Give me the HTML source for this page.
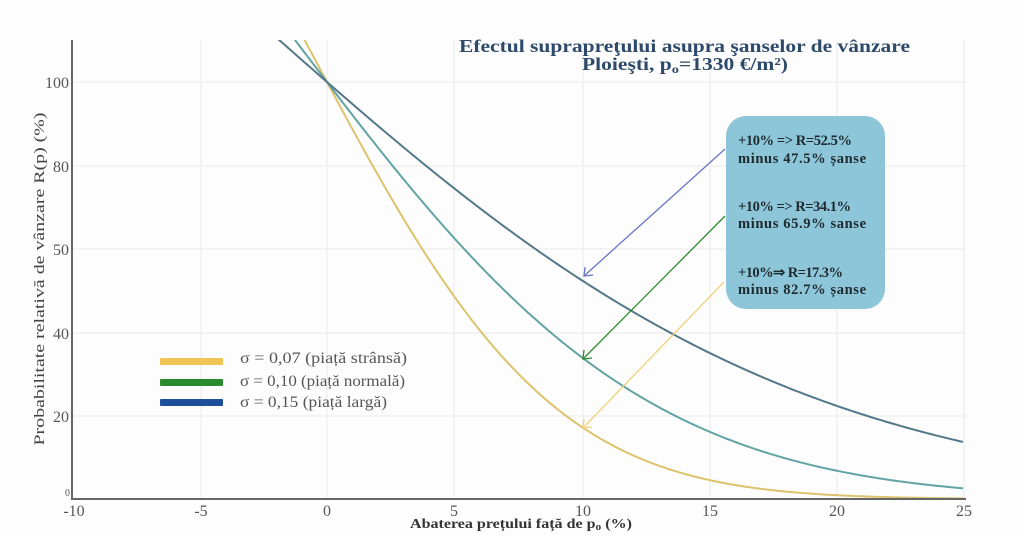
<!DOCTYPE html>
<html><head><meta charset="utf-8">
<style>
html,body{margin:0;padding:0;background:#fff;}
svg{display:block;}
text{font-family:"Liberation Serif",serif;}
</style></head>
<body>
<svg id="s" width="1024" height="536" viewBox="0 0 1024 536" xmlns="http://www.w3.org/2000/svg">
<defs>
<clipPath id="cp"><rect x="72" y="40" width="895" height="460"/></clipPath>
</defs>
<rect width="1024" height="536" fill="#fdfdfd"/>
<!-- grid -->
<g stroke="#e9e9e9" stroke-width="1">
<line x1="72" y1="82" x2="966" y2="82"/>
<line x1="72" y1="166" x2="966" y2="166"/>
<line x1="72" y1="249" x2="966" y2="249"/>
<line x1="72" y1="333" x2="966" y2="333"/>
<line x1="72" y1="416" x2="966" y2="416"/>
<line x1="201" y1="40" x2="201" y2="499"/>
<line x1="327" y1="40" x2="327" y2="499"/>
<line x1="454" y1="40" x2="454" y2="499"/>
<line x1="583" y1="40" x2="583" y2="499"/>
<line x1="710" y1="40" x2="710" y2="499"/>
<line x1="837" y1="40" x2="837" y2="499"/>
<line x1="964" y1="40" x2="964" y2="499"/>
</g>
<!-- curves -->
<g clip-path="url(#cp)" fill="none" stroke-width="2">
<path id="c3" stroke="#dcc36c"/>
<path id="c2" stroke="#62a3a3"/>
<path id="c1" stroke="#557888"/>
</g>
<!-- axes -->
<line x1="72" y1="40" x2="72" y2="500" stroke="#666" stroke-width="2"/>
<line x1="71" y1="499" x2="966" y2="499" stroke="#666" stroke-width="2"/>
<!-- y tick labels -->
<g font-size="16" fill="#555" text-anchor="end">
<text x="69" y="88">100</text>
<text x="69" y="172">80</text>
<text x="69" y="255">50</text>
<text x="69" y="339">40</text>
<text x="69" y="422">20</text>
<text x="70" y="496" font-size="10">0</text>
</g>
<!-- x tick labels -->
<g font-size="16" fill="#555" text-anchor="middle">
<text x="74" y="516">-10</text>
<text x="201" y="516">-5</text>
<text x="327" y="516">0</text>
<text x="454" y="516">5</text>
<text x="583" y="516">10</text>
<text x="710" y="516">15</text>
<text x="837" y="516">20</text>
<text x="964" y="516">25</text>
</g>
<!-- axis titles -->
<text x="410" y="528" font-size="14" font-weight="bold" fill="#333" textLength="222" lengthAdjust="spacingAndGlyphs">Abaterea prețului față de p<tspan font-size="10" dy="2">o</tspan><tspan dy="-2"> (%)</tspan></text>
<text transform="translate(44,279) rotate(-90)" text-anchor="middle" font-size="15" fill="#444" textLength="333" lengthAdjust="spacingAndGlyphs">Probabilitate relativă de vânzare R(p) (%)</text>
<!-- title -->
<text x="459" y="52" font-size="18" font-weight="bold" fill="#2e4a6b" textLength="451" lengthAdjust="spacingAndGlyphs">Efectul suprapreţului asupra şanselor de vânzare</text>
<text x="582" y="70" font-size="18" font-weight="bold" fill="#2e4a6b" textLength="206" lengthAdjust="spacingAndGlyphs">Ploieşti, p<tspan font-size="12" dy="3">o</tspan><tspan dy="-3">=1330 €/m²)</tspan></text>
<!-- legend -->
<rect x="160" y="358" width="63" height="7" fill="#f0c455" rx="1"/>
<rect x="160" y="379" width="63" height="7" fill="#2a8a2e" rx="1"/>
<rect x="160" y="399" width="63" height="7" fill="#1f4f9a" rx="1"/>
<g font-size="15.5" fill="#555">
<text x="240" y="363" textLength="167" lengthAdjust="spacingAndGlyphs">σ = 0,07 (piață strânsă)</text>
<text x="240" y="386" textLength="165" lengthAdjust="spacingAndGlyphs">σ = 0,10 (piață normală)</text>
<text x="240" y="407" textLength="147" lengthAdjust="spacingAndGlyphs">σ = 0,15 (piață largă)</text>
</g>
<!-- annotation box -->
<rect x="726" y="116" width="159" height="193" rx="20" ry="20" fill="#8ec6d9"/>
<g font-size="14.5" fill="#1e2a2e" font-weight="bold">
<text x="738" y="145" textLength="114" lengthAdjust="spacing">+10% =&gt; R=52.5%</text>
<text x="738" y="163" textLength="128" lengthAdjust="spacing">minus 47.5% șanse</text>
<text x="738" y="211" textLength="113" lengthAdjust="spacing">+10% =&gt; R=34.1%</text>
<text x="738" y="228" textLength="128" lengthAdjust="spacing">minus 65.9% sanse</text>
<text x="738" y="277" textLength="105" lengthAdjust="spacing">+10%⇒ R=17.3%</text>
<text x="738" y="294" textLength="128" lengthAdjust="spacing">minus 82.7% șanse</text>
</g>
<!-- arrows -->
<g fill="none" stroke-width="1.3">
<line x1="725" y1="149" x2="584" y2="276" stroke="#6a74c8"/>
<polyline points="585,267 584,276 593,275" stroke="#6a74c8"/>
<line x1="725" y1="216" x2="583" y2="359" stroke="#2e8b2e"/>
<polyline points="584,350 583,359 592,358" stroke="#2e8b2e"/>
<line x1="724" y1="282" x2="583" y2="428" stroke="#f0d27a"/>
<polyline points="584,419 583,428 592,427" stroke="#f0d27a"/>
</g>
</svg>
<script>
(function(){
function erf(x){var s=x<0?-1:1;x=Math.abs(x);var t=1/(1+0.3275911*x);
var y=1-(((((1.061405429*t-1.453152027)*t)+1.421413741)*t-0.284496736)*t+0.254829592)*t*Math.exp(-x*x);return s*y;}
function Phi(z){return 0.5*(1+erf(z/Math.SQRT2));}
function X(p){return 327+p*25.44;}
function Y(R){return 499-R*4.17;}
function build(sig){var d="";for(var p=-3;p<=25.001;p+=0.1){var R=200*(1-Phi(Math.log(1+p/100)/sig));
var x=X(p),y=Y(R);if(y<-200)y=-200;d+=(d?"L":"M")+x.toFixed(2)+","+y.toFixed(2);}return d;}
document.getElementById("c1").setAttribute("d",build(0.15));
document.getElementById("c2").setAttribute("d",build(0.10));
document.getElementById("c3").setAttribute("d",build(0.07));
})();
</script>
</body></html>
